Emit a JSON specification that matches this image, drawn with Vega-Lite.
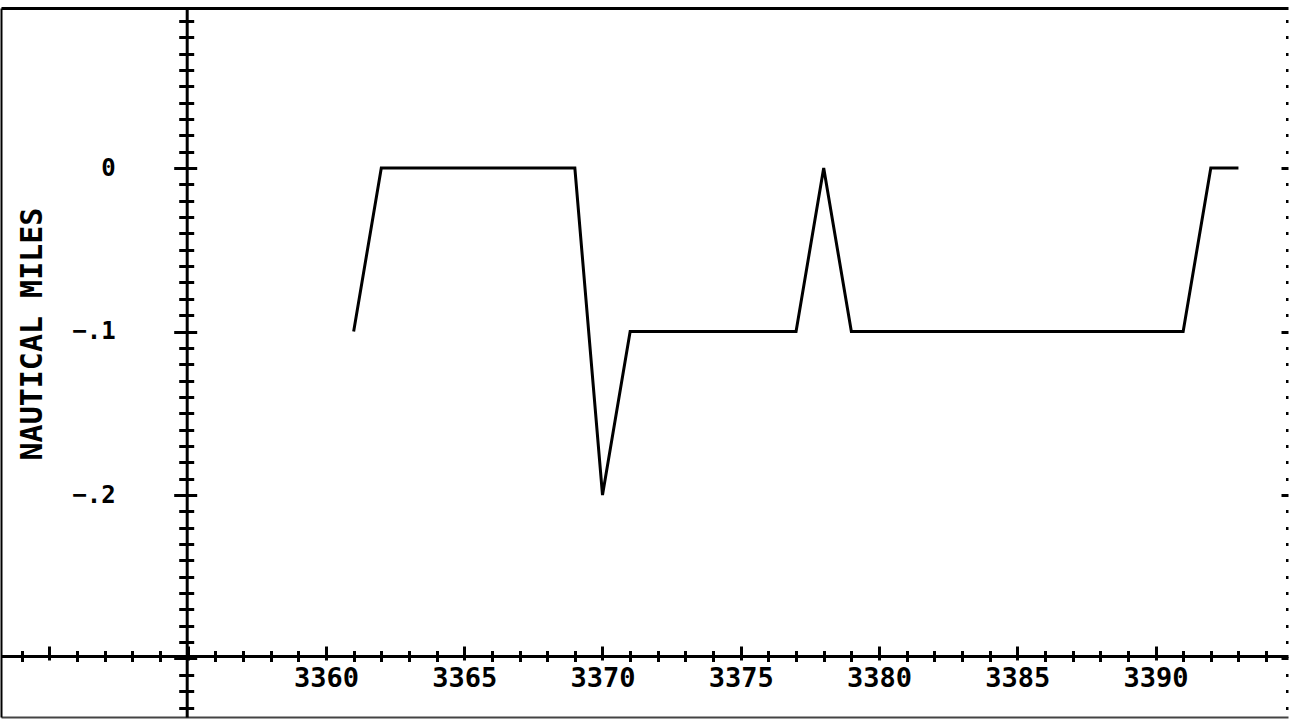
{
  "$schema": "https://vega.github.io/schema/vega-lite/v6.json",
  "width": 1287,
  "height": 709,
  "autosize": {"type": "none"},
  "padding": {"left": 1, "top": 8, "right": 2, "bottom": 2},
  "background": "white",
  "config": {
    "view": {"stroke": null},
    "axis": {
      "grid": false,
      "domainColor": "black",
      "tickColor": "black",
      "domainWidth": 3,
      "tickWidth": 3,
      "labelColor": "black",
      "titleColor": "black",
      "labelFont": "DejaVu Sans Mono",
      "titleFont": "DejaVu Sans Mono",
      "labelFontWeight": "bold",
      "titleFontWeight": "bold"
    }
  },
  "data": {
    "values": [
      {"rev": 3361, "nm": -0.1},
      {"rev": 3362, "nm": 0},
      {"rev": 3363, "nm": 0},
      {"rev": 3364, "nm": 0},
      {"rev": 3365, "nm": 0},
      {"rev": 3366, "nm": 0},
      {"rev": 3367, "nm": 0},
      {"rev": 3368, "nm": 0},
      {"rev": 3369, "nm": 0},
      {"rev": 3370, "nm": -0.2},
      {"rev": 3371, "nm": -0.1},
      {"rev": 3372, "nm": -0.1},
      {"rev": 3373, "nm": -0.1},
      {"rev": 3374, "nm": -0.1},
      {"rev": 3375, "nm": -0.1},
      {"rev": 3376, "nm": -0.1},
      {"rev": 3377, "nm": -0.1},
      {"rev": 3378, "nm": 0},
      {"rev": 3379, "nm": -0.1},
      {"rev": 3380, "nm": -0.1},
      {"rev": 3381, "nm": -0.1},
      {"rev": 3382, "nm": -0.1},
      {"rev": 3383, "nm": -0.1},
      {"rev": 3384, "nm": -0.1},
      {"rev": 3385, "nm": -0.1},
      {"rev": 3386, "nm": -0.1},
      {"rev": 3387, "nm": -0.1},
      {"rev": 3388, "nm": -0.1},
      {"rev": 3389, "nm": -0.1},
      {"rev": 3390, "nm": -0.1},
      {"rev": 3391, "nm": -0.1},
      {"rev": 3392, "nm": 0},
      {"rev": 3393, "nm": 0}
    ]
  },
  "resolve": {"axis": {"x": "independent", "y": "independent"}},
  "layer": [
    {
      "mark": {"type": "line", "color": "black", "strokeWidth": 3},
      "encoding": {
        "x": {
          "field": "rev", "type": "quantitative",
          "scale": {"domain": [3348.246, 3394.792], "nice": false, "zero": false},
          "axis": {
            "orient": "bottom", "offset": -61,
            "values": [3360, 3365, 3370, 3375, 3380, 3385, 3390],
            "format": "d", "ticks": false, "labelPadding": 9.5,
            "labelFontSize": 27, "labelAlign": "center", "labelBaseline": "top",
            "title": null, "domain": true
          }
        },
        "y": {
          "field": "nm", "type": "quantitative",
          "scale": {"domain": [-0.33578, 0.09786], "nice": false, "zero": false},
          "axis": {
            "orient": "left", "offset": -185.7,
            "values": [0, -0.1, -0.2],
            "labelExpr": "datum.value == 0 ? '0' : replace(format(datum.value, '.1f'), '0.', '.')",
            "ticks": false, "labelPadding": 71.5, "labelFontSize": 24,
            "labelAlign": "right", "labelBaseline": "middle",
            "title": "NAUTICAL MILES", "titleFontSize": 30, "titleAngle": -90,
            "titleX": -154.7, "titleY": 325.5, "titleBaseline": "middle", "titleAlign": "center",
            "domain": true
          }
        }
      }
    },
    {
      "mark": {"type": "point", "opacity": 0},
      "encoding": {
        "x": {
          "field": "rev", "type": "quantitative",
          "scale": {"domain": [3348.246, 3394.792], "nice": false, "zero": false},
          "axis": {
            "orient": "bottom", "offset": -61,
            "values": [3349, 3350, 3351, 3352, 3353, 3354, 3355, 3356, 3357, 3358, 3359, 3360, 3361, 3362, 3363, 3364, 3365, 3366, 3367, 3368, 3369, 3370, 3371, 3372, 3373, 3374, 3375, 3376, 3377, 3378, 3379, 3380, 3381, 3382, 3383, 3384, 3385, 3386, 3387, 3388, 3389, 3390, 3391, 3392, 3393, 3394],
            "domain": false, "labels": false, "title": null,
            "tickSize": {"condition": {"test": "datum.value % 5 == 0", "value": 4}, "value": 5.5}
          }
        },
        "y": {
          "field": "nm", "type": "quantitative",
          "scale": {"domain": [-0.33578, 0.09786], "nice": false, "zero": false},
          "axis": {
            "orient": "left", "offset": -185.7,
            "values": [0.09, 0.08, 0.07, 0.06, 0.05, 0.04, 0.03, 0.02, 0.01, 0, -0.01, -0.02, -0.03, -0.04, -0.05, -0.06, -0.07, -0.08, -0.09, -0.1, -0.11, -0.12, -0.13, -0.14, -0.15, -0.16, -0.17, -0.18, -0.19, -0.2, -0.21, -0.22, -0.23, -0.24, -0.25, -0.26, -0.27, -0.28, -0.29, -0.3, -0.31, -0.32, -0.33],
            "domain": false, "labels": false, "title": null,
            "tickSize": {"condition": {"test": "abs(round(datum.value * 100)) % 10 == 0", "value": 13}, "value": 8}
          }
        }
      }
    },
    {
      "mark": {"type": "point", "opacity": 0},
      "encoding": {
        "x": {
          "field": "rev", "type": "quantitative",
          "scale": {"domain": [3348.246, 3394.792], "nice": false, "zero": false},
          "axis": {
            "orient": "bottom", "offset": -61,
            "values": [3349, 3350, 3351, 3352, 3353, 3354, 3355, 3356, 3357, 3358, 3359, 3360, 3361, 3362, 3363, 3364, 3365, 3366, 3367, 3368, 3369, 3370, 3371, 3372, 3373, 3374, 3375, 3376, 3377, 3378, 3379, 3380, 3381, 3382, 3383, 3384, 3385, 3386, 3387, 3388, 3389, 3390, 3391, 3392, 3393, 3394],
            "domain": false, "labels": false, "title": null,
            "tickSize": {"condition": {"test": "datum.value % 5 == 0", "value": -10}, "value": -5.5}
          }
        },
        "y": {
          "field": "nm", "type": "quantitative",
          "scale": {"domain": [-0.33578, 0.09786], "nice": false, "zero": false},
          "axis": {
            "orient": "left", "offset": -185.7,
            "values": [0.09, 0.08, 0.07, 0.06, 0.05, 0.04, 0.03, 0.02, 0.01, 0, -0.01, -0.02, -0.03, -0.04, -0.05, -0.06, -0.07, -0.08, -0.09, -0.1, -0.11, -0.12, -0.13, -0.14, -0.15, -0.16, -0.17, -0.18, -0.19, -0.2, -0.21, -0.22, -0.23, -0.24, -0.25, -0.26, -0.27, -0.28, -0.29, -0.3, -0.31, -0.32, -0.33],
            "domain": false, "labels": false, "title": null,
            "tickSize": {"condition": {"test": "abs(round(datum.value * 100)) % 10 == 0", "value": -10}, "value": -7}
          }
        }
      }
    },
    {
      "mark": {"type": "point", "opacity": 0},
      "encoding": {
        "x": {
          "field": "rev", "type": "quantitative",
          "scale": {"domain": [3348.246, 3394.792], "nice": false, "zero": false},
          "axis": {
            "orient": "top", "offset": 0,
            "domain": true, "domainWidth": 3, "ticks": false, "labels": false, "title": null
          }
        },
        "y": {
          "field": "nm", "type": "quantitative",
          "scale": {"domain": [-0.33578, 0.09786], "nice": false, "zero": false},
          "axis": {
            "orient": "right", "offset": 0,
            "values": [0.09, 0.08, 0.07, 0.06, 0.05, 0.04, 0.03, 0.02, 0.01, 0, -0.01, -0.02, -0.03, -0.04, -0.05, -0.06, -0.07, -0.08, -0.09, -0.1, -0.11, -0.12, -0.13, -0.14, -0.15, -0.16, -0.17, -0.18, -0.19, -0.2, -0.21, -0.22, -0.23, -0.24, -0.25, -0.26, -0.27, -0.28, -0.29, -0.3, -0.31, -0.32, -0.33],
            "domain": false, "labels": false, "title": null,
            "tickSize": {"condition": {"test": "abs(round(datum.value * 100)) % 10 == 0", "value": -7}, "value": -2.5}
          }
        }
      }
    },
    {
      "mark": {"type": "point", "opacity": 0},
      "encoding": {
        "x": {
          "field": "rev", "type": "quantitative",
          "scale": {"domain": [3348.246, 3394.792], "nice": false, "zero": false},
          "axis": {
            "orient": "bottom", "offset": 0,
            "domain": true, "domainWidth": 2, "domainColor": "#444444",
            "ticks": false, "labels": false, "title": null
          }
        },
        "y": {
          "field": "nm", "type": "quantitative",
          "scale": {"domain": [-0.33578, 0.09786], "nice": false, "zero": false},
          "axis": {
            "orient": "left", "offset": 0,
            "domain": true, "domainWidth": 2, "ticks": false, "labels": false, "title": null
          }
        }
      }
    }
  ]
}
